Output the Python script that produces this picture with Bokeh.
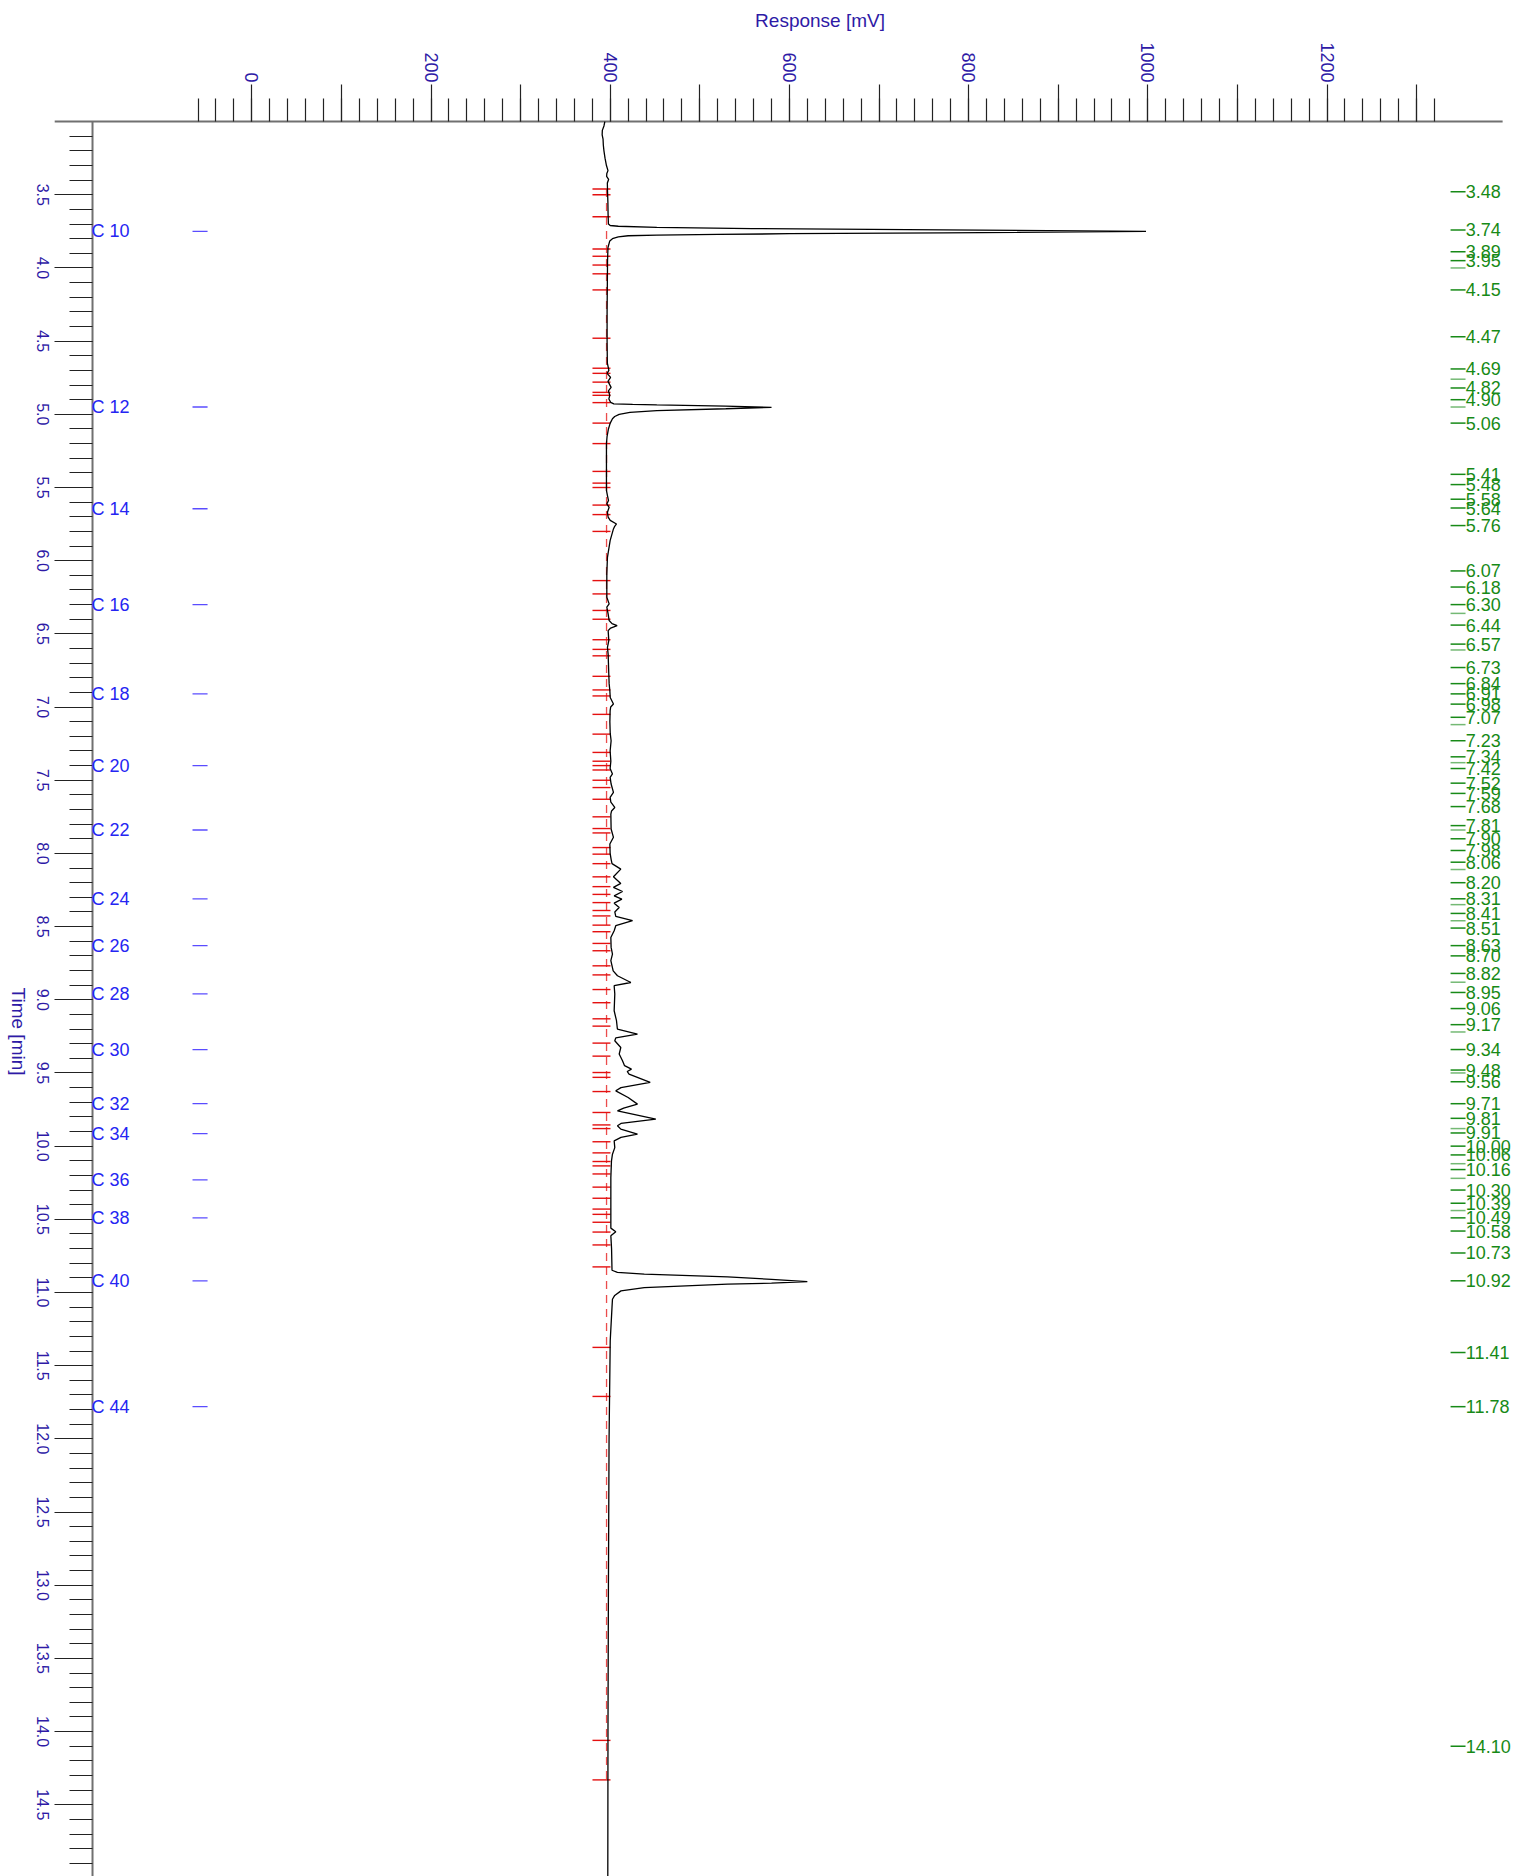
import math
from bokeh.plotting import figure
from bokeh.models import Range1d, FixedTicker, ColumnDataSource, LabelSet, Label
from bokeh.core.properties import value
from bokeh.embed import file_html
from bokeh.resources import INLINE

# ---------------- data ----------------
trace_time = [
    3.000, 3.030, 3.060, 3.090, 3.120, 3.160, 3.200, 3.250, 3.300, 3.335, 3.355, 3.375, 3.395, 3.420,
    3.480, 3.550, 3.630, 3.700, 3.710, 3.715, 3.722, 3.731, 3.740, 3.750, 3.760, 3.766, 3.771, 3.775,
    3.780, 3.788, 3.800, 3.815, 3.860, 3.950, 4.100, 4.300, 4.500, 4.650, 4.700, 4.720, 4.748, 4.775,
    4.816, 4.840, 4.870, 4.895, 4.918, 4.928, 4.932, 4.936, 4.944, 4.953, 4.962, 4.975, 4.987, 5.000,
    5.015, 5.030, 5.060, 5.100, 5.150, 5.200, 5.520, 5.555, 5.589, 5.612, 5.635, 5.669, 5.703, 5.725,
    5.749, 5.765, 5.783, 5.863, 5.977, 6.090, 6.250, 6.295, 6.318, 6.365, 6.409, 6.430, 6.444, 6.460,
    6.478, 6.546, 6.592, 6.640, 6.700, 6.774, 6.840, 6.890, 6.935, 6.979, 7.000, 7.025, 7.100, 7.180,
    7.230, 7.300, 7.370, 7.420, 7.457, 7.480, 7.526, 7.583, 7.617, 7.650, 7.686, 7.710, 7.731, 7.833,
    7.890, 7.936, 8.000, 8.040, 8.070, 8.107, 8.159, 8.205, 8.232, 8.260, 8.290, 8.312, 8.340, 8.370,
    8.400, 8.430, 8.460, 8.494, 8.528, 8.574, 8.642, 8.688, 8.733, 8.802, 8.836, 8.882, 8.904, 8.961,
    9.075, 9.143, 9.200, 9.234, 9.260, 9.280, 9.326, 9.371, 9.417, 9.450, 9.474, 9.490, 9.508, 9.565,
    9.600, 9.622, 9.668, 9.713, 9.740, 9.759, 9.815, 9.845, 9.861, 9.884, 9.918, 9.940, 9.964, 10.010,
    10.055, 10.100, 10.214, 10.442, 10.560, 10.585, 10.613, 10.700, 10.848, 10.862, 10.875, 10.893,
    10.910, 10.925, 10.936, 10.943, 10.966, 10.989, 11.020, 11.046, 11.100, 11.330, 12.010, 13.000,
    14.000, 15.000,
]
trace_mv = [
    394.0, 393.0, 391.2, 391.0, 392.0, 392.3, 393.0, 394.2, 395.8, 397.5, 396.2, 396.0, 398.2, 396.8,
    397.0, 397.4, 397.6, 398.0, 400.0, 409.0, 452.0, 558.0, 772.0, 998.0, 772.0, 600.0, 520.0, 452.0,
    420.0, 409.0, 402.5, 399.5, 397.5, 397.0, 396.8, 396.5, 396.5, 396.8, 398.5, 396.5, 400.4, 397.5,
    401.0, 398.0, 399.5, 398.5, 400.5, 404.0, 425.0, 452.0, 529.0, 580.0, 529.0, 452.0, 422.0, 410.0,
    405.0, 402.5, 400.0, 398.0, 396.5, 395.8, 395.8, 396.9, 398.1, 396.2, 398.8, 396.9, 397.7, 400.0,
    407.0, 405.0, 403.6, 399.9, 396.9, 396.2, 396.2, 398.8, 396.2, 397.7, 398.8, 402.0, 407.7, 400.5,
    397.7, 398.4, 396.9, 397.7, 398.0, 398.4, 398.8, 399.6, 400.0, 403.6, 400.5, 399.9, 399.6, 400.0,
    401.0, 399.9, 400.7, 399.9, 402.5, 399.9, 401.0, 403.6, 399.9, 400.7, 405.1, 401.5, 400.7, 401.0,
    403.6, 399.6, 399.9, 401.0, 402.0, 411.8, 403.6, 411.8, 403.6, 413.7, 404.4, 413.0, 404.4, 410.0,
    405.1, 406.2, 424.9, 406.2, 404.4, 400.7, 401.0, 402.5, 400.7, 403.3, 408.1, 423.0, 404.4, 405.1,
    404.4, 407.0, 408.0, 430.4, 406.2, 405.1, 411.8, 410.0, 413.7, 416.0, 423.7, 419.0, 421.0, 444.6,
    412.0, 406.2, 420.0, 430.4, 415.0, 408.1, 450.9, 412.0, 408.1, 411.8, 430.4, 412.0, 404.4, 405.1,
    402.5, 401.4, 400.7, 400.7, 400.7, 406.2, 400.7, 401.5, 402.0, 408.0, 438.0, 531.0,
    580.0, 620.0, 580.0, 531.0, 438.0, 412.0, 405.0, 402.5, 402.0, 400.0, 398.7, 398.0,
    397.5, 397.3,
]

# peak boundary marks (red)
boundary_times = [
    3.46, 3.50, 3.65, 3.87, 3.92, 3.98, 4.04, 4.15, 4.48, 4.685, 4.72, 4.78, 4.85, 4.87, 4.92, 5.06,
    5.20, 5.39, 5.47, 5.50, 5.62, 5.685, 5.80, 6.136, 6.227, 6.34, 6.40, 6.54, 6.606, 6.65, 6.79,
    6.883, 6.924, 7.05, 7.185, 7.31, 7.37, 7.40, 7.43, 7.50, 7.55, 7.63, 7.75, 7.83, 7.86, 7.96,
    8.005, 8.07, 8.16, 8.227, 8.28, 8.336, 8.39, 8.427, 8.49, 8.535, 8.615, 8.665, 8.768, 8.83,
    8.93, 9.02, 9.13, 9.18, 9.296, 9.385, 9.497, 9.53, 9.627, 9.77, 9.855, 9.88, 9.97, 10.046,
    10.105, 10.135, 10.19, 10.28, 10.356, 10.43, 10.466, 10.52, 10.587, 10.675, 10.825, 11.375,
    11.71, 14.06, 14.33,
]

# retention time labels (green)
rt_labels = [
    "3.48", "3.74", "3.89", "3.95", "4.15", "4.47", "4.69", "4.82", "4.90", "5.06", "5.41", "5.48",
    "5.58", "5.64", "5.76", "6.07", "6.18", "6.30", "6.44", "6.57", "6.73", "6.84", "6.91", "6.98",
    "7.07", "7.23", "7.34", "7.42", "7.52", "7.59", "7.68", "7.81", "7.90", "7.98", "8.06", "8.20",
    "8.31", "8.41", "8.51", "8.63", "8.70", "8.82", "8.95", "9.06", "9.17", "9.34", "9.48", "9.56",
    "9.71", "9.81", "9.91", "10.00", "10.06", "10.16", "10.30", "10.39", "10.49", "10.58", "10.73",
    "10.92", "11.41", "11.78", "14.10",
]
rt_values = [float(s) for s in rt_labels]
# unlabelled apex ticks
rt_extra = [4.00, 4.76, 4.95, 6.36, 6.61, 7.12, 7.38, 7.84, 8.11, 8.35, 8.46, 8.88, 9.22, 9.50,
            9.88, 10.12, 10.22, 10.44]

# carbon-number markers (blue)
c_names = ["C 10", "C 12", "C 14", "C 16", "C 18", "C 20", "C 22", "C 24", "C 26", "C 28", "C 30",
           "C 32", "C 34", "C 36", "C 38", "C 40", "C 44"]
c_times = [3.75, 4.95, 5.645, 6.30, 6.91, 7.40, 7.84, 8.31, 8.63, 8.96, 9.34, 9.71, 9.915, 10.23,
           10.49, 10.92, 11.78]

# axis ticks
x_major = list(range(0, 1301, 100))
x_minor = list(range(-60, 1321, 20))
x_hidden = [v for v in x_major if v % 200 != 0]
y_major = [round(3.5 + 0.5 * i, 1) for i in range(23)]
y_minor = [round(3.1 + 0.1 * i, 1) for i in range(119)]
y_tick_labels = ["%.1f" % v for v in y_major]

# ---------------- styling / geometry ----------------
FONT = "Liberation Sans"
DARK_BLUE = "#2e1aa6"
C_BLUE = "#2525f2"
GREEN = "#178a17"
RED = "#e41010"
AXIS_GREY = "#707070"

T_TOP, T_AXIS, T_END = 2.1726, 3.0, 14.99     # time at canvas top, axis line, canvas bottom
MV_LEFT, MV_RIGHT = -280.5, 1412.6            # response at canvas left / right
MV_AXIS_START, MV_AXIS_END = -220.0, 1396.0   # extent of the response axis line
MV_TIME_AXIS = -177.8                         # where the time axis sits
MV_TIME_LABELS = -233.6                       # centre of the time tick labels

p = figure(width=1517, height=1876,
           x_range=Range1d(MV_LEFT, MV_RIGHT), y_range=Range1d(T_END, T_TOP),
           x_axis_location="above", output_backend="svg", toolbar_location=None,
           min_border_left=0, min_border_right=0, min_border_top=0, min_border_bottom=0)
p.outline_line_color = None
p.grid.visible = False
p.background_fill_color = "white"
p.border_fill_color = "white"

# top axis (Response)
xa = p.xaxis[0]
xa.fixed_location = T_AXIS
xa.ticker = FixedTicker(ticks=x_major, minor_ticks=x_minor)
xa.major_label_overrides = {v: "" for v in x_hidden}
xa.axis_line_color = None
xa.major_tick_out = 37
xa.major_tick_in = 0
xa.minor_tick_out = 23
xa.minor_tick_in = 0
xa.major_tick_line_color = "#222222"
xa.minor_tick_line_color = "#222222"
xa.major_tick_line_width = 1.2
xa.minor_tick_line_width = 1.2
xa.major_label_orientation = -math.pi / 2
xa.major_label_standoff = 2
xa.major_label_text_font = FONT
xa.major_label_text_font_size = "18px"
xa.major_label_text_color = DARK_BLUE

# left axis (Time), inside the canvas; its labels are centred on the ticks below
ya = p.yaxis[0]
ya.fixed_location = MV_TIME_AXIS
ya.ticker = FixedTicker(ticks=y_major, minor_ticks=y_minor)
ya.major_label_overrides = {v: "" for v in y_major}
ya.axis_line_color = None
ya.major_tick_out = 38
ya.major_tick_in = 0
ya.minor_tick_out = 23
ya.minor_tick_in = 0
ya.major_tick_line_color = "#222222"
ya.minor_tick_line_color = "#222222"
ya.major_tick_line_width = 1.2
ya.minor_tick_line_width = 1.2

ysrc = ColumnDataSource(dict(t=y_major, lab=y_tick_labels))
p.add_layout(LabelSet(x=MV_TIME_LABELS, y="t", text="lab", source=ysrc, angle=-math.pi / 2,
                      text_align="center", text_baseline="middle", text_font=value(FONT),
                      text_font_size=value("16px"), text_color=DARK_BLUE))

# axis lines
p.segment(x0=[MV_AXIS_START], y0=[T_AXIS], x1=[MV_AXIS_END], y1=[T_AXIS],
          line_color=AXIS_GREY, line_width=2)
p.segment(x0=[MV_TIME_AXIS], y0=[T_AXIS], x1=[MV_TIME_AXIS], y1=[T_END],
          line_color=AXIS_GREY, line_width=2)

# axis titles
p.add_layout(Label(x=634.2, y=2.309, text="Response [mV]", text_align="center", text_baseline="middle",
                   text_font=FONT, text_font_size="19px", text_color=DARK_BLUE))
p.add_layout(Label(x=-260.4, y=9.217, text="Time [min]", angle=-math.pi / 2, text_align="center",
                   text_baseline="middle", text_font=FONT, text_font_size="19px", text_color=DARK_BLUE))

# baseline (red dashed) and boundary marks
p.segment(x0=[395.9], y0=[boundary_times[0]], x1=[395.9], y1=[boundary_times[-1]],
          line_color=RED, line_alpha=0.75, line_width=1.3, line_dash="8 6")
p.segment(x0=380.2, x1=400.3, y0=boundary_times, y1=boundary_times,
          line_color=RED, line_width=1.4)

# chromatogram trace
p.line(trace_mv, trace_time, line_color="black", line_width=1.3)

# carbon markers
csrc = ColumnDataSource(dict(t=c_times, name=c_names))
p.segment(x0=-66.2, x1=-49.4, y0="t", y1="t", source=csrc, line_color="#5a4cff", line_width=1.3)
p.add_layout(LabelSet(x=-179.0, y="t", text="name", source=csrc, text_align="left",
                      text_baseline="middle", text_font=value(FONT), text_font_size=value("18px"),
                      text_color=C_BLUE))

# retention time ticks and labels
p.segment(x0=1337.9, x1=1354.6, y0=rt_extra, y1=rt_extra, line_color=GREEN, line_alpha=0.6,
          line_width=1.5)
rsrc = ColumnDataSource(dict(t=rt_values, lab=rt_labels))
p.segment(x0=1337.9, x1=1354.6, y0="t", y1="t", source=rsrc, line_color=GREEN, line_width=1.5)
p.add_layout(LabelSet(x=1354.8, y="t", text="lab", source=rsrc, text_align="left",
                      text_baseline="middle", text_font=value(FONT), text_font_size=value("18px"),
                      text_color=GREEN))

open("out.html", "w").write(file_html(p, INLINE))
